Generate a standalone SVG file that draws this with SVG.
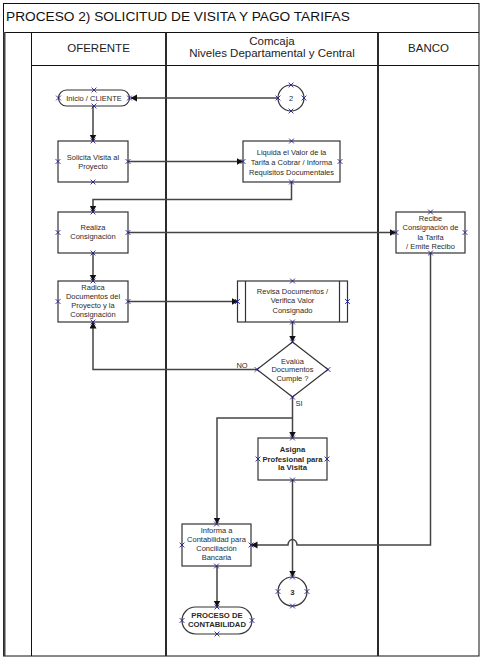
<svg xmlns="http://www.w3.org/2000/svg" xmlns:xlink="http://www.w3.org/1999/xlink" width="484" height="662" viewBox="0 0 484 662">
<style>
.frame{fill:none;stroke:#111;stroke-width:1}
.lane{stroke:#2a2a2a;stroke-width:2}
.node{fill:#fff;stroke:#333;stroke-width:1.2}
.conn{fill:none;stroke:#444;stroke-width:1.5}
.arr{marker-end:url(#ah)}
.t{font-family:"Liberation Sans",Arial,sans-serif;font-size:7.5px;fill:#2a2a2a;text-anchor:middle}
.b{font-weight:bold;font-size:7.7px}
.h{font-family:"Liberation Sans",Arial,sans-serif;font-size:11.5px;fill:#222;text-anchor:middle}
.cp{fill:none;stroke:#1f1f90;stroke-width:0.9}
</style>
<defs>
<marker id="ah" markerUnits="userSpaceOnUse" markerWidth="8" markerHeight="8" refX="6" refY="3.5" orient="auto">
<path d="M0,0 L6.5,3.5 L0,7 Z" fill="#111"/>
</marker>
<path id="x" d="M-2.4,-2.4L2.4,2.4M-2.4,2.4L2.4,-2.4"/>
</defs>
<rect width="484" height="662" fill="#fff"/>
<g id="frame">
<rect class="frame" x="3.5" y="3.5" width="475.5" height="652.5"/>
<line class="frame" x1="3.5" y1="32.5" x2="479" y2="32.5"/>
<line class="frame" x1="31.5" y1="65.5" x2="479" y2="65.5"/>
<line class="frame" x1="31.5" y1="32.5" x2="31.5" y2="656"/>
<line x1="4.5" y1="32" x2="4.5" y2="656" stroke="#444" stroke-width="2"/>
<line class="lane" x1="166" y1="32.5" x2="166" y2="656"/>
<line class="lane" x1="378" y1="32.5" x2="378" y2="656"/>
<text x="6" y="21" font-family="Liberation Sans,Arial,sans-serif" font-size="13.7" fill="#111">PROCESO 2) SOLICITUD DE VISITA Y PAGO TARIFAS</text>
<text class="h" x="98.5" y="52">OFERENTE</text>
<text class="h" x="272" y="44.5">Comcaja</text>
<text class="h" x="272" y="57">Niveles Departamental y Central</text>
<text class="h" x="428.5" y="52">BANCO</text>
</g>
<g id="connectors">
<path class="conn arr" d="M278,98 H131"/>
<path class="conn arr" d="M93,106 V140.5"/>
<path class="conn arr" d="M128,161.5 H242.5"/>
<path class="conn arr" d="M291.5,182 V199.5 H93 V211.5"/>
<path class="conn arr" d="M128,232.5 H395.5"/>
<path class="conn arr" d="M93,253 V280.5"/>
<path class="conn arr" d="M128,301.5 H237.5"/>
<path class="conn arr" d="M292.5,322 V341.5"/>
<path class="conn arr" d="M257,369.5 H93 V322.5"/>
<path class="conn arr" d="M292.5,397 V437.5"/>
<path class="conn arr" d="M292.5,418 H217 V523.5"/>
<path class="conn arr" d="M292.5,480 V576.5"/>
<path class="conn arr" d="M430.5,253 V545 H297 A4.5,5.5 0 0 0 288,545 H251.5"/>
<path class="conn arr" d="M217,566 V606.5"/>
<text class="t" x="242" y="367.5">NO</text>
<text class="t" x="295.5" y="406" style="text-anchor:start">SI</text>
</g>
<g id="inicio">
<rect class="node" x="58.5" y="90" width="71" height="16" rx="8"/>
<text class="t" x="94" y="100.5">Inicio / CLIENTE</text>
<use href="#x" class="cp" x="58.5" y="98"/><use href="#x" class="cp" x="129.5" y="98"/><use href="#x" class="cp" x="94" y="90"/><use href="#x" class="cp" x="94" y="106"/>
</g>
<g id="c2">
<circle class="node" cx="291" cy="98" r="13"/>
<text class="t" x="291" y="101">2</text>
<use href="#x" class="cp" x="291" y="85"/><use href="#x" class="cp" x="291" y="111"/><use href="#x" class="cp" x="278" y="98"/><use href="#x" class="cp" x="304" y="98"/>
</g>
<g id="solicita">
<rect class="node" x="58" y="141" width="70" height="41"/>
<text class="t" x="93" y="159.6">Solicita Visita al</text>
<text class="t" x="93" y="168.8">Proyecto</text>
<use href="#x" class="cp" x="93" y="141"/><use href="#x" class="cp" x="93" y="182"/><use href="#x" class="cp" x="58" y="161.5"/><use href="#x" class="cp" x="128" y="161.5"/>
</g>
<g id="liquida">
<rect class="node" x="243" y="141" width="97" height="41"/>
<text class="t" x="291.5" y="155.3">Liquida el Valor de la</text>
<text class="t" x="291.5" y="165.1">Tarifa a Cobrar / Informa</text>
<text class="t" x="291.5" y="174.9">Requisitos Documentales</text>
<use href="#x" class="cp" x="291.5" y="141"/><use href="#x" class="cp" x="291.5" y="182"/><use href="#x" class="cp" x="243" y="161.5"/><use href="#x" class="cp" x="340" y="161.5"/>
</g>
<g id="realiza">
<rect class="node" x="58" y="212" width="70" height="41"/>
<text class="t" x="93" y="230.4">Realiza</text>
<text class="t" x="93" y="239.4">Consignación</text>
<use href="#x" class="cp" x="93" y="212"/><use href="#x" class="cp" x="93" y="253"/><use href="#x" class="cp" x="58" y="232.5"/><use href="#x" class="cp" x="128" y="232.5"/>
</g>
<g id="recibe">
<rect class="node" x="396" y="212" width="69" height="41"/>
<text class="t" x="430.5" y="220.5">Recibe</text>
<text class="t" x="430.5" y="230.1">Consignación de</text>
<text class="t" x="430.5" y="239.7">la Tarifa</text>
<text class="t" x="430.5" y="249.2">/ Emite Recibo</text>
<use href="#x" class="cp" x="430.5" y="212"/><use href="#x" class="cp" x="430.5" y="253"/><use href="#x" class="cp" x="396" y="232.5"/><use href="#x" class="cp" x="465" y="232.5"/>
</g>
<g id="radica">
<rect class="node" x="58" y="281" width="70" height="41"/>
<text class="t" x="93" y="289.5">Radica</text>
<text class="t" x="93" y="298.8">Documentos del</text>
<text class="t" x="93" y="308.1">Proyecto y la</text>
<text class="t" x="93" y="317.4">Consignación</text>
<use href="#x" class="cp" x="93" y="281"/><use href="#x" class="cp" x="93" y="322"/><use href="#x" class="cp" x="58" y="301.5"/><use href="#x" class="cp" x="128" y="301.5"/>
</g>
<g id="revisa">
<rect class="node" x="237.5" y="281" width="110" height="41"/>
<line class="node" x1="245.5" y1="281" x2="245.5" y2="322"/>
<line class="node" x1="339.5" y1="281" x2="339.5" y2="322"/>
<text class="t" x="292.5" y="293.5">Revisa Documentos /</text>
<text class="t" x="292.5" y="303">Verifica Valor</text>
<text class="t" x="292.5" y="312.5">Consignado</text>
<use href="#x" class="cp" x="292.5" y="281"/><use href="#x" class="cp" x="292.5" y="322"/><use href="#x" class="cp" x="237.5" y="301.5"/><use href="#x" class="cp" x="347.5" y="301.5"/>
</g>
<g id="evalua">
<polygon class="node" points="292.5,342 328,369.5 292.5,397 257,369.5"/>
<text class="t" x="292.5" y="363.5">Evalúa</text>
<text class="t" x="292.5" y="372.3">Documentos</text>
<text class="t" x="292.5" y="381.1">Cumple ?</text>
<use href="#x" class="cp" x="292.5" y="342"/><use href="#x" class="cp" x="292.5" y="397"/><use href="#x" class="cp" x="257" y="369.5"/><use href="#x" class="cp" x="328" y="369.5"/>
</g>
<g id="asigna">
<rect class="node" x="258" y="438" width="69" height="42"/>
<text class="t b" x="292.5" y="452">Asigna</text>
<text class="t b" x="292.5" y="461.7">Profesional para</text>
<text class="t b" x="292.5" y="470.4">la Visita</text>
<use href="#x" class="cp" x="292.5" y="438"/><use href="#x" class="cp" x="292.5" y="480"/><use href="#x" class="cp" x="258" y="459"/><use href="#x" class="cp" x="327" y="459"/>
</g>
<g id="informa">
<rect class="node" x="182" y="524" width="69" height="42"/>
<text class="t" x="216.5" y="532.8">Informa a</text>
<text class="t" x="216.5" y="542">Contabilidad para</text>
<text class="t" x="216.5" y="551.2">Conciliación</text>
<text class="t" x="216.5" y="560.4">Bancaria</text>
<use href="#x" class="cp" x="216.5" y="524"/><use href="#x" class="cp" x="216.5" y="566"/><use href="#x" class="cp" x="182" y="545"/><use href="#x" class="cp" x="251" y="545"/>
</g>
<g id="c3">
<circle class="node" cx="292.5" cy="591.5" r="14.5"/>
<text class="t b" x="292.5" y="594.5">3</text>
<use href="#x" class="cp" x="292.5" y="577"/><use href="#x" class="cp" x="292.5" y="606"/><use href="#x" class="cp" x="278" y="591.5"/><use href="#x" class="cp" x="307" y="591.5"/>
</g>
<g id="contabilidad">
<rect class="node" x="182" y="607" width="70" height="27" rx="13.5"/>
<text class="t b" x="217" y="617.7">PROCESO DE</text>
<text class="t b" x="217" y="627">CONTABILIDAD</text>
<use href="#x" class="cp" x="217" y="607"/><use href="#x" class="cp" x="217" y="634"/><use href="#x" class="cp" x="182" y="620.5"/><use href="#x" class="cp" x="252" y="620.5"/>
</g>
</svg>
